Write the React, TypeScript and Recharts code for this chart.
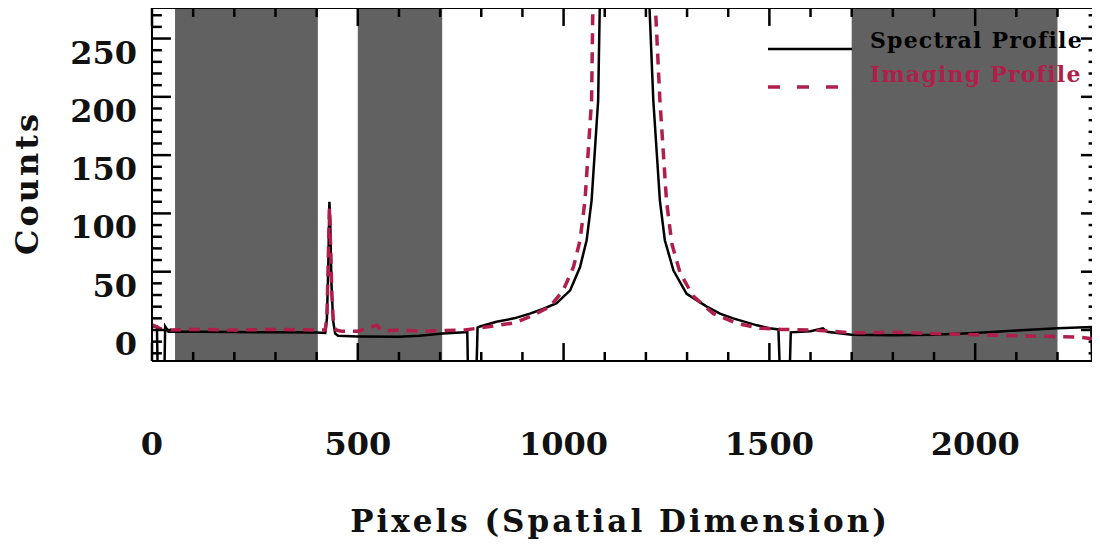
import { LineChart, Line, XAxis, YAxis, ReferenceArea, ReferenceLine, Legend } from "recharts";

// spectral profile (solid black)
const spectralX = [
  0, 12, 14, 30, 32, 40, 100, 200, 300, 400, 421, 425, 428, 431, 433, 436, 440, 445, 452, 500,
  600, 650, 706, 760, 766, 768, 788, 791, 797, 837, 880, 918, 950, 983, 1016, 1040, 1056, 1068,
  1076, 1084, 1089, 1150, 1206, 1218, 1226, 1234, 1246, 1267, 1299, 1348, 1380, 1412, 1470, 1500,
  1522, 1526, 1549, 1552, 1600, 1630, 1640, 1700, 1800, 1900, 2000, 2100, 2200, 2282, 2285, 2296,
];
const spectralCounts = [
  3, 3, -40, -40, 3, -1.5, -1.5, -1.8, -2, -2.2, -2.5, 10, 50, 110, 95, 40, 8, -3, -5, -5.5,
  -5.8, -5, -3, -2, -2, -40, -40, 2, 3, 7, 10, 14, 18, 23, 34, 54, 77, 111,
  154, 197, 300, 5000, 300, 197, 154, 111, 77, 51, 31, 20, 14, 10, 4, 1.5,
  0.5, -40, -40, -2, -1, 1.5, -1.5, -4, -4.5, -4, -2.5, -0.5, 1.5, 2.5, -40, -40,
];

// imaging profile (dashed red)
const imagingX = [
  0, 10, 20, 40, 100, 200, 300, 400, 421, 425, 428, 431, 434, 437, 441, 447, 460, 500, 546, 560,
  600, 650, 700, 760, 800, 840, 880, 918, 967, 999, 1024, 1040, 1052, 1060, 1068, 1072, 1150,
  1220, 1234, 1242, 1250, 1263, 1283, 1315, 1364, 1421, 1477, 1530, 1600, 1650, 1700, 1800,
  1900, 2000, 2100, 2200, 2250, 2296,
];
const imagingCounts = [
  4.5, 3, 1, 0, 0.5, 0, 0.5, 0, 0, 12, 55, 105, 70, 30, 5, 0, -1, -1, 4, -1,
  0, -1, -0.5, 0, 2, 4, 6, 11.4, 20, 34, 54, 77, 111, 154, 197, 300, 5000,
  300, 197, 154, 111, 74, 49, 29, 14, 5.7, 1.5, 0.5, 0, -1, -2.5, -2,
  -3, -4, -5, -5.7, -6, -8,
];

// shaded (excluded) pixel ranges
const maskStart = [56, 500, 1700];
const maskEnd = [403, 705, 2200];

const xTicks = [0, 100, 200, 300, 400, 500, 600, 700, 800, 900, 1000, 1100, 1200, 1300, 1400, 1500, 1600, 1700, 1800, 1900, 2000, 2100, 2200];
const yTicks = [-20, -10, 0, 10, 20, 30, 40, 50, 60, 70, 80, 90, 100, 110, 120, 130, 140, 150, 160, 170, 180, 190, 200, 210, 220, 230, 240, 250, 260, 270];
const xLabels = [0, 500, 1000, 1500, 2000];
const yLabels = [0, 50, 100, 150, 200, 250];

const X_MIN = 0;
const X_MAX = 2296;
const Y_MIN = -26.6;
const Y_MAX = 276.2;

const spectral = spectralX.map((x, i) => ({ x, counts: spectralCounts[i] }));
const imaging = imagingX.map((x, i) => ({ x, counts: imagingCounts[i] }));

const FONT = "'DejaVu Serif', serif";
const RED = "#B01E4B";
const GRAY = "#616161";
const axisStroke = { stroke: "#000", strokeWidth: 2 };

// inward tick lengths, in data units (~9/18 px vertically, ~10/19 px horizontally)
const xTickLen = (v: number) => (v % 500 === 0 ? 15.4 : 7.7);
const yTickLen = (v: number) => (v % 50 === 0 ? 46 : 24);

function BottomLabel({ x, y, payload }: any) {
  return (
    <text x={x} y={y + 94} textAnchor="middle" fontFamily={FONT} fontWeight="bold" fontSize={32} fill="#111">
      {payload.value}
    </text>
  );
}

function LeftLabel({ x, y, payload }: any) {
  return (
    <text x={x - 15} y={y + 25} textAnchor="end" fontFamily={FONT} fontWeight="bold" fontSize={32} fill="#111">
      {payload.value}
    </text>
  );
}

function ProfileLegend() {
  return (
    <svg width={340} height={80}>
      <line x1={8} y1={29} x2={92} y2={29} stroke="#000" strokeWidth={2.5} />
      <text x={110} y={28} fontFamily={FONT} fontWeight="bold" fontSize={22} letterSpacing={1.2} fill="#000">
        Spectral Profile
      </text>
      <line x1={8} y1={67} x2={86} y2={67} stroke={RED} strokeWidth={3.5} strokeDasharray="12 17" />
      <text x={110} y={62} fontFamily={FONT} fontWeight="bold" fontSize={22} letterSpacing={1.2} fill={RED}>
        Imaging Profile
      </text>
    </svg>
  );
}

export default function App() {
  return (
    <div style={{ marginLeft: -8, marginTop: -8, position: "relative", background: "#fff", width: 1100, height: 548 }}>
      <LineChart width={1100} height={548} margin={{ top: 0, right: 0, bottom: 0, left: 0 }}>
        {maskStart.map((s, i) => (
          <ReferenceArea key={s} x1={s} x2={maskEnd[i]} fill={GRAY} fillOpacity={1} stroke="none" ifOverflow="hidden" />
        ))}
        <Line
          data={spectral}
          dataKey="counts"
          type="linear"
          stroke="#000"
          strokeWidth={2.5}
          dot={false}
          isAnimationActive={false}
          name="Spectral Profile"
        />
        <Line
          data={imaging}
          dataKey="counts"
          type="linear"
          stroke={RED}
          strokeWidth={3.5}
          strokeDasharray="11 8"
          dot={false}
          isAnimationActive={false}
          name="Imaging Profile"
        />
        {xTicks.map((t) => (
          <ReferenceLine
            key={`b${t}`}
            segment={[{ x: t, y: Y_MIN }, { x: t, y: Y_MIN + xTickLen(t) }]}
            stroke="#000"
            strokeWidth={2.5}
            ifOverflow="visible"
          />
        ))}
        {xTicks.map((t) => (
          <ReferenceLine
            key={`t${t}`}
            segment={[{ x: t, y: Y_MAX }, { x: t, y: Y_MAX - xTickLen(t) }]}
            stroke="#000"
            strokeWidth={2.5}
            ifOverflow="visible"
          />
        ))}
        {yTicks.map((t) => (
          <ReferenceLine
            key={`l${t}`}
            segment={[{ x: X_MIN, y: t }, { x: X_MIN + yTickLen(t), y: t }]}
            stroke="#000"
            strokeWidth={2.5}
            ifOverflow="visible"
          />
        ))}
        {yTicks.map((t) => (
          <ReferenceLine
            key={`r${t}`}
            segment={[{ x: X_MAX, y: t }, { x: X_MAX - yTickLen(t) * 0.85, y: t }]}
            stroke="#000"
            strokeWidth={2.5}
            ifOverflow="visible"
          />
        ))}
        <XAxis
          dataKey="x"
          type="number"
          domain={[X_MIN, X_MAX]}
          allowDataOverflow
          ticks={xLabels}
          interval={0}
          height={187}
          tickSize={0}
          tickMargin={0}
          tickLine={false}
          tick={<BottomLabel />}
          axisLine={axisStroke}
          label={{
            content: () => (
              <text x={620} y={532} textAnchor="middle" fontFamily={FONT} fontWeight="bold" fontSize={31} letterSpacing={3} fill="#111">
                Pixels (Spatial Dimension)
              </text>
            ),
          }}
        />
        <XAxis
          xAxisId="top"
          orientation="top"
          type="number"
          domain={[X_MIN, X_MAX]}
          allowDataOverflow
          height={8}
          tick={false}
          tickLine={false}
          axisLine={axisStroke}
        />
        <YAxis
          type="number"
          domain={[Y_MIN, Y_MAX]}
          allowDataOverflow
          ticks={yLabels}
          interval={0}
          width={152}
          tickSize={0}
          tickMargin={0}
          tickLine={false}
          tick={<LeftLabel />}
          axisLine={axisStroke}
          label={{
            content: () => (
              <text
                x={27}
                y={183}
                transform="rotate(-90 27 183)"
                textAnchor="middle"
                dominantBaseline="central"
                fontFamily={FONT}
                fontWeight="bold"
                fontSize={32}
                letterSpacing={3}
                fill="#111"
              >
                Counts
              </text>
            ),
          }}
        />
        <YAxis
          yAxisId="right"
          orientation="right"
          type="number"
          domain={[Y_MIN, Y_MAX]}
          allowDataOverflow
          width={3}
          tick={false}
          tickLine={false}
          axisLine={axisStroke}
        />
        <Legend
          layout="horizontal"
          verticalAlign="middle"
          align="center"
          content={() => <ProfileLegend />}
          wrapperStyle={{ position: "absolute", left: 760, top: 20, width: 340, height: 80 }}
        />
      </LineChart>
    </div>
  );
}
